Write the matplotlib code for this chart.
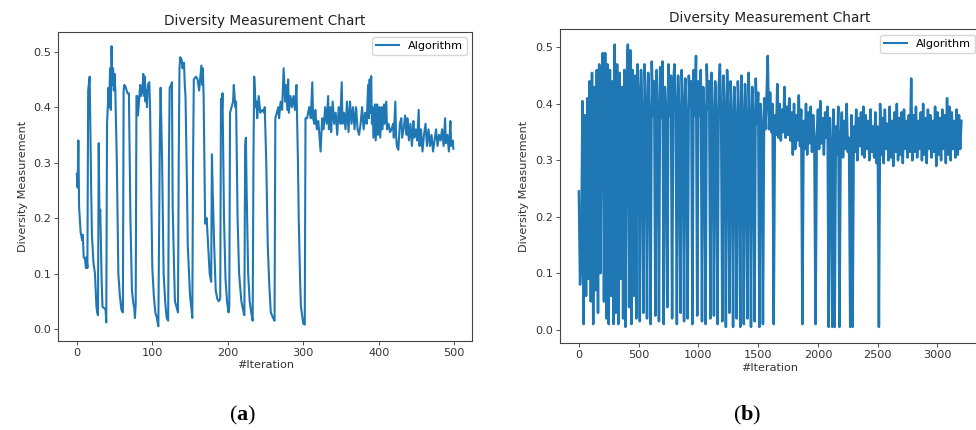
import matplotlib
matplotlib.use("Agg")
import matplotlib.pyplot as plt

# (a) diversity per iteration at the turning points
iter_a = [0, 1, 2, 3, 5, 7, 8, 9, 11, 12, 13, 14, 15, 17, 19, 20, 22, 24, 26, 27,
          28, 29, 30, 31, 33, 34, 36, 38, 39, 40, 41, 42, 43, 44, 45, 46, 47, 48, 49, 50,
          51, 53, 55, 57, 59, 61, 62, 63, 65, 67, 69, 71, 73, 75, 76, 77, 78, 79, 80, 81,
          83, 84, 85, 87, 88, 89, 90, 91, 92, 93, 94, 96, 97, 99, 100, 102, 104, 106, 108, 110,
          111, 113, 115, 117, 119, 121, 122, 123, 125, 126, 127, 129, 130, 132, 134, 135, 136, 137, 139, 140,
          142, 143, 144, 146, 147, 150, 152, 153, 154, 155, 158, 160, 162, 164, 165, 166, 167, 168, 170, 172,
          174, 176, 178, 179, 180, 182, 184, 186, 188, 190, 191, 192, 193, 195, 197, 199, 201, 202, 203, 205,
          207, 208, 210, 211, 213, 215, 218, 221, 222, 223, 224, 225, 227, 229, 231, 233, 234, 235, 237, 238,
          239, 241, 243, 246, 248, 249, 251, 253, 255, 257, 260, 262, 263, 265, 267, 268, 270, 272, 274, 276,
          277, 279, 280, 281, 283, 285, 287, 289, 291, 293, 294, 296, 297, 298, 300, 302, 303, 305, 308, 310,
          312, 313, 315, 316, 318, 320, 322, 323, 325, 327, 329, 331, 333, 334, 336, 337, 339, 341, 343, 345,
          347, 349, 351, 352, 354, 356, 358, 360, 362, 364, 366, 368, 370, 372, 374, 376, 378, 380, 382, 384,
          386, 387, 388, 389, 390, 391, 392, 393, 395, 396, 398, 399, 401, 402, 404, 405, 407, 408, 410, 411,
          413, 415, 417, 419, 420, 422, 423, 424, 426, 428, 430, 431, 433, 435, 437, 438, 440, 442, 444, 446,
          447, 449, 451, 453, 454, 456, 458, 460, 462, 464, 466, 468, 470, 472, 474, 476, 478, 480, 482, 484,
          486, 488, 489, 491, 493, 495, 496, 498, 499]
div_a = [0.28, 0.255, 0.34, 0.22, 0.175, 0.16, 0.17, 0.13, 0.125, 0.11, 0.13, 0.11, 0.43, 0.455, 0.25, 0.17, 0.12, 0.10, 0.04, 0.03,
         0.025, 0.335, 0.20, 0.215, 0.08, 0.04, 0.038, 0.035, 0.012, 0.37, 0.40, 0.435, 0.40, 0.47, 0.395, 0.51, 0.44, 0.47, 0.43, 0.46,
         0.43, 0.30, 0.10, 0.06, 0.035, 0.03, 0.43, 0.44, 0.435, 0.425, 0.425, 0.20, 0.07, 0.045, 0.04, 0.02, 0.045, 0.42, 0.42, 0.385,
         0.42, 0.44, 0.42, 0.43, 0.46, 0.42, 0.455, 0.41, 0.43, 0.40, 0.44, 0.445, 0.40, 0.20, 0.11, 0.06, 0.03, 0.02, 0.005, 0.35,
         0.435, 0.30, 0.10, 0.05, 0.02, 0.015, 0.30, 0.435, 0.44, 0.445, 0.22, 0.10, 0.05, 0.04, 0.03, 0.30, 0.47, 0.49, 0.485, 0.47,
         0.48, 0.44, 0.42, 0.25, 0.15, 0.06, 0.035, 0.02, 0.30, 0.45, 0.455, 0.45, 0.43, 0.46, 0.475, 0.44, 0.47, 0.42, 0.19, 0.20,
         0.15, 0.10, 0.085, 0.315, 0.25, 0.15, 0.07, 0.055, 0.05, 0.055, 0.415, 0.38, 0.425, 0.20, 0.09, 0.05, 0.03, 0.04, 0.39, 0.40,
         0.41, 0.44, 0.40, 0.41, 0.20, 0.10, 0.05, 0.03, 0.025, 0.33, 0.345, 0.25, 0.10, 0.05, 0.03, 0.015, 0.30, 0.455, 0.40, 0.41,
         0.38, 0.42, 0.39, 0.395, 0.39, 0.40, 0.30, 0.15, 0.08, 0.03, 0.02, 0.015, 0.38, 0.39, 0.40, 0.38, 0.41, 0.395, 0.47, 0.41,
         0.44, 0.395, 0.45, 0.39, 0.42, 0.40, 0.42, 0.395, 0.44, 0.30, 0.20, 0.08, 0.04, 0.03, 0.01, 0.008, 0.38, 0.38, 0.40, 0.38,
         0.445, 0.38, 0.37, 0.395, 0.36, 0.375, 0.34, 0.32, 0.38, 0.36, 0.40, 0.37, 0.42, 0.36, 0.40, 0.355, 0.41, 0.37, 0.39, 0.35,
         0.40, 0.37, 0.445, 0.37, 0.39, 0.36, 0.41, 0.355, 0.41, 0.37, 0.40, 0.36, 0.40, 0.36, 0.35, 0.37, 0.40, 0.36, 0.39, 0.37,
         0.44, 0.38, 0.45, 0.39, 0.456, 0.37, 0.40, 0.345, 0.405, 0.34, 0.405, 0.35, 0.40, 0.345, 0.40, 0.36, 0.405, 0.37, 0.41, 0.36,
         0.37, 0.355, 0.36, 0.37, 0.345, 0.41, 0.35, 0.33, 0.323, 0.37, 0.38, 0.345, 0.36, 0.385, 0.35, 0.38, 0.34, 0.37, 0.33, 0.375,
         0.345, 0.36, 0.34, 0.395, 0.33, 0.36, 0.32, 0.35, 0.37, 0.33, 0.36, 0.33, 0.35, 0.32, 0.34, 0.36, 0.33, 0.35, 0.34, 0.36,
         0.33, 0.38, 0.335, 0.35, 0.32, 0.375, 0.33, 0.34, 0.325]

# (b) diversity sampled every 10 iterations, 0..3200
iter_b = list(range(0, 3201, 10))
div_b = [
    0.245, 0.080, 0.130, 0.405, 0.010, 0.380, 0.060, 0.410, 0.090, 0.440,
    0.050, 0.455, 0.010, 0.430, 0.070, 0.460, 0.030, 0.470, 0.100, 0.445,
    0.490, 0.050, 0.490, 0.020, 0.470, 0.010, 0.460, 0.060, 0.440, 0.010,
    0.505, 0.030, 0.470, 0.010, 0.455, 0.090, 0.430, 0.020, 0.460, 0.005,
    0.440, 0.505, 0.040, 0.495, 0.010, 0.460, 0.060, 0.450, 0.020, 0.470,
    0.420, 0.015, 0.460, 0.380, 0.030, 0.470, 0.400, 0.020, 0.455, 0.370,
    0.010, 0.475, 0.380, 0.440, 0.025, 0.460, 0.390, 0.015, 0.465, 0.375,
    0.475, 0.010, 0.430, 0.385, 0.040, 0.470, 0.380, 0.450, 0.020, 0.440,
    0.470, 0.395, 0.010, 0.450, 0.380, 0.030, 0.460, 0.400, 0.015, 0.445,
    0.375, 0.020, 0.450, 0.395, 0.440, 0.010, 0.460, 0.380, 0.485, 0.025,
    0.440, 0.380, 0.460, 0.015, 0.430, 0.385, 0.010, 0.470, 0.390, 0.440,
    0.020, 0.455, 0.375, 0.025, 0.440, 0.380, 0.010, 0.430, 0.470, 0.380,
    0.015, 0.450, 0.390, 0.005, 0.460, 0.380, 0.030, 0.440, 0.375, 0.005,
    0.430, 0.370, 0.020, 0.440, 0.380, 0.005, 0.450, 0.375, 0.010, 0.435,
    0.370, 0.020, 0.455, 0.370, 0.005, 0.430, 0.375, 0.015, 0.445, 0.365,
    0.420, 0.005, 0.400, 0.360, 0.010, 0.410, 0.355, 0.410, 0.485, 0.355,
    0.420, 0.350, 0.400, 0.010, 0.380, 0.345, 0.435, 0.340, 0.400, 0.335,
    0.390, 0.350, 0.430, 0.340, 0.395, 0.345, 0.410, 0.335, 0.385, 0.310,
    0.400, 0.320, 0.380, 0.335, 0.415, 0.325, 0.390, 0.010, 0.370, 0.320,
    0.400, 0.310, 0.385, 0.330, 0.395, 0.315, 0.380, 0.335, 0.010, 0.345,
    0.390, 0.320, 0.405, 0.330, 0.375, 0.310, 0.385, 0.340, 0.395, 0.005,
    0.375, 0.320, 0.005, 0.390, 0.005, 0.360, 0.310, 0.395, 0.005, 0.340,
    0.385, 0.305, 0.370, 0.320, 0.400, 0.315, 0.340, 0.005, 0.380, 0.005,
    0.360, 0.315, 0.390, 0.300, 0.375, 0.325, 0.385, 0.310, 0.395, 0.305,
    0.380, 0.320, 0.370, 0.300, 0.390, 0.315, 0.360, 0.305, 0.385, 0.295,
    0.360, 0.005, 0.400, 0.310, 0.375, 0.295, 0.390, 0.320, 0.365, 0.300,
    0.395, 0.305, 0.370, 0.290, 0.385, 0.315, 0.400, 0.300, 0.375, 0.310,
    0.385, 0.295, 0.390, 0.320, 0.370, 0.305, 0.380, 0.315, 0.445, 0.300,
    0.380, 0.315, 0.395, 0.305, 0.370, 0.320, 0.385, 0.300, 0.400, 0.310,
    0.375, 0.295, 0.390, 0.320, 0.380, 0.305, 0.370, 0.315, 0.395, 0.290,
    0.385, 0.310, 0.375, 0.300, 0.390, 0.320, 0.380, 0.295, 0.410, 0.310,
    0.395, 0.300, 0.385, 0.320, 0.370, 0.305, 0.390, 0.310, 0.380, 0.320,
    0.370,
]

TITLE = "Diversity Measurement Chart"
LINE_COLOR = "#1f77b4"

plt.rcParams["font.family"] = "DejaVu Sans"
plt.rcParams["mathtext.fontset"] = "custom"
plt.rcParams["mathtext.rm"] = "Liberation Serif"
plt.rcParams["mathtext.bf"] = "Liberation Serif:bold"

fig = plt.figure(figsize=(9.76, 4.30), dpi=100)
ax_a = fig.add_axes([0.0594, 0.2077, 0.4245, 0.7186])
ax_b = fig.add_axes([0.5735, 0.2016, 0.4310, 0.7302])

panels = [
    (ax_a, iter_a, div_a, 1.5, (-25, 524), (-0.021, 0.536)),
    (ax_b, iter_b, div_b, 1.8, (-160, 3359), (-0.024, 0.532)),
]

for ax, xs, ys, lw, xlim, ylim in panels:
    ax.plot(xs, ys, color=LINE_COLOR, linewidth=lw, label="Algorithm")
    ax.set_xlim(*xlim)
    ax.set_ylim(*ylim)
    ax.set_title(TITLE, fontsize=9.8, color="#222222", pad=5)
    ax.set_xlabel("#Iteration", fontsize=8.1, color="#333333", labelpad=2)
    ax.set_ylabel("Diversity Measurement", fontsize=8.1, color="#333333", labelpad=4)
    ax.tick_params(labelsize=8.1, length=3, width=0.6, colors="#333333", pad=2)
    for s in ax.spines.values():
        s.set_linewidth(0.8)
        s.set_color("#444444")
    leg = ax.legend(loc="upper right", fontsize=8.1, handlelength=2.0, borderpad=0.35)
    leg.get_lines()[0].set_linewidth(1.5)

ax_a.set_yticks([0.0, 0.1, 0.2, 0.3, 0.4, 0.5])
ax_b.set_yticks([0.0, 0.1, 0.2, 0.3, 0.4, 0.5])

# panel captions below each chart
fig.text(243 / 976, 1 - 415 / 430, r"($\mathbf{a}$)", fontsize=16, family="Liberation Serif",
         ha="center", va="center")
fig.text(747 / 976, 1 - 415 / 430, r"($\mathbf{b}$)", fontsize=16, family="Liberation Serif",
         ha="center", va="center")

fig.savefig("out.png", dpi=100)
